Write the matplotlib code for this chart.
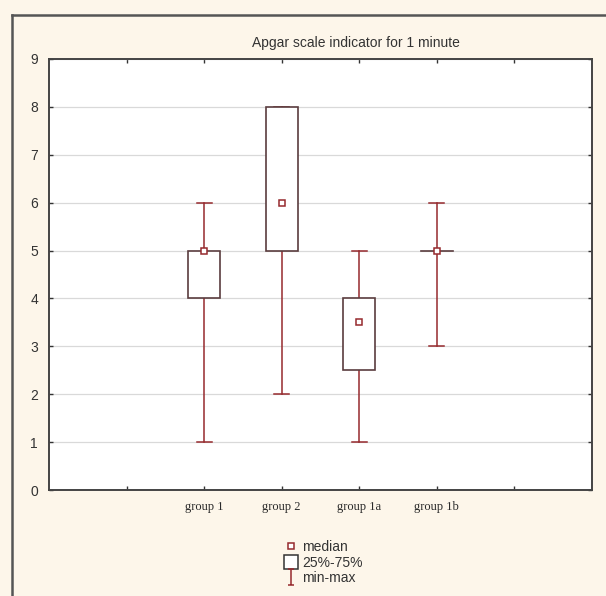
import numpy as np
import matplotlib
matplotlib.use("Agg")
import matplotlib.pyplot as plt
from matplotlib.lines import Line2D
from matplotlib.path import Path

# values
groups = ["group 1", "group 2", "group 1a", "group 1b"]
mins = [1, 2, 1, 3]
maxs = [6, 8, 5, 6]
q1s = [4, 5, 2.5, 5]
q3s = [5, 8, 4, 5]
medians = [5, 6, 3.5, 5]

title = "Apgar scale indicator for 1 minute"

bg = "#fdf6ea"
red = "#962a2e"
boxcol = "#5a3c3e"
txt = "#333333"

plt.rcParams["font.family"] = ["Liberation Sans", "DejaVu Sans"]

fig = plt.figure(figsize=(6.06, 5.96), dpi=100, facecolor=bg)
ax = fig.add_axes([49 / 606, 106 / 596, 543 / 606, 431 / 596])
ax.set_facecolor("white")

pos = np.arange(len(groups)) + 2
bw = 0.41
cap = 0.19

for i, x in enumerate(pos):
    ax.plot([x, x], [mins[i], maxs[i]], color=red, lw=1.1, zorder=2)
    ax.plot([x - cap / 2, x + cap / 2], [mins[i], mins[i]], color=red, lw=1.1, zorder=2)
    ax.plot([x - cap / 2, x + cap / 2], [maxs[i], maxs[i]], color=red, lw=1.1, zorder=2)
    h = q3s[i] - q1s[i]
    if h > 0:
        ax.add_patch(plt.Rectangle((x - bw / 2, q1s[i]), bw, h, facecolor="white",
                                   edgecolor=boxcol, lw=1.2, zorder=3))
    else:
        ax.plot([x - bw / 2, x + bw / 2], [q1s[i], q1s[i]], color=boxcol, lw=1.2, zorder=3)
ax.plot(pos, medians, ls="none", marker="s", ms=5, mfc="white", mec=red, mew=1.1, zorder=4)

ax.set_xlim(0, 7)
ax.set_ylim(0, 9)
ax.set_xticks(np.arange(1, 7))
ax.set_xticklabels(["", *groups, ""], family="Liberation Serif", fontsize=9, color="#2a2a2a")
ax.set_yticks(np.arange(0, 10))
ax.tick_params(axis="y", labelsize=10, labelcolor=txt)
ax.tick_params(direction="in", length=3, width=1, color="#333333",
               top=True, right=True, pad=8)
ax.yaxis.grid(True, color="#d9d9d9", lw=0.9)
ax.set_axisbelow(True)
for s in ax.spines.values():
    s.set_color("#444444")
    s.set_linewidth(1.4)

fig.text(356 / 606, 1 - 43 / 596, title, ha="center", va="center", fontsize=10, color=txt)

# outer frame (left and top edges visible)
fig.add_artist(Line2D([12 / 606, 12 / 606], [0, 1 - 15 / 596], color="#555555", lw=1.8,
                      transform=fig.transFigure))
fig.add_artist(Line2D([12 / 606, 1], [1 - 15 / 596, 1 - 15 / 596], color="#555555", lw=1.8,
                      transform=fig.transFigure))

imark = Path([(-0.35, -1), (0.35, -1), (0, -1), (0, 1), (-0.35, 1), (0.35, 1)],
             [Path.MOVETO, Path.LINETO, Path.MOVETO, Path.LINETO, Path.MOVETO, Path.LINETO])
handles = [
    Line2D([], [], ls="none", marker="s", ms=5, mfc="white", mec=red, mew=1.1),
    Line2D([], [], ls="none", marker="s", ms=10, mfc="white", mec="#333333", mew=1.1),
    Line2D([], [], ls="none", marker=imark, ms=11, mec=red, mew=1.1),
]
fig.legend(handles, ["median", "25%-75%", "min-max"], loc="upper left",
           bbox_to_anchor=(277 / 606, 1 - 533 / 596), frameon=False, fontsize=10,
           handlelength=1.0, handletextpad=0.3, labelspacing=0.12, borderpad=0,
           labelcolor=txt)

fig.savefig("out.png", dpi=100, facecolor=bg)
